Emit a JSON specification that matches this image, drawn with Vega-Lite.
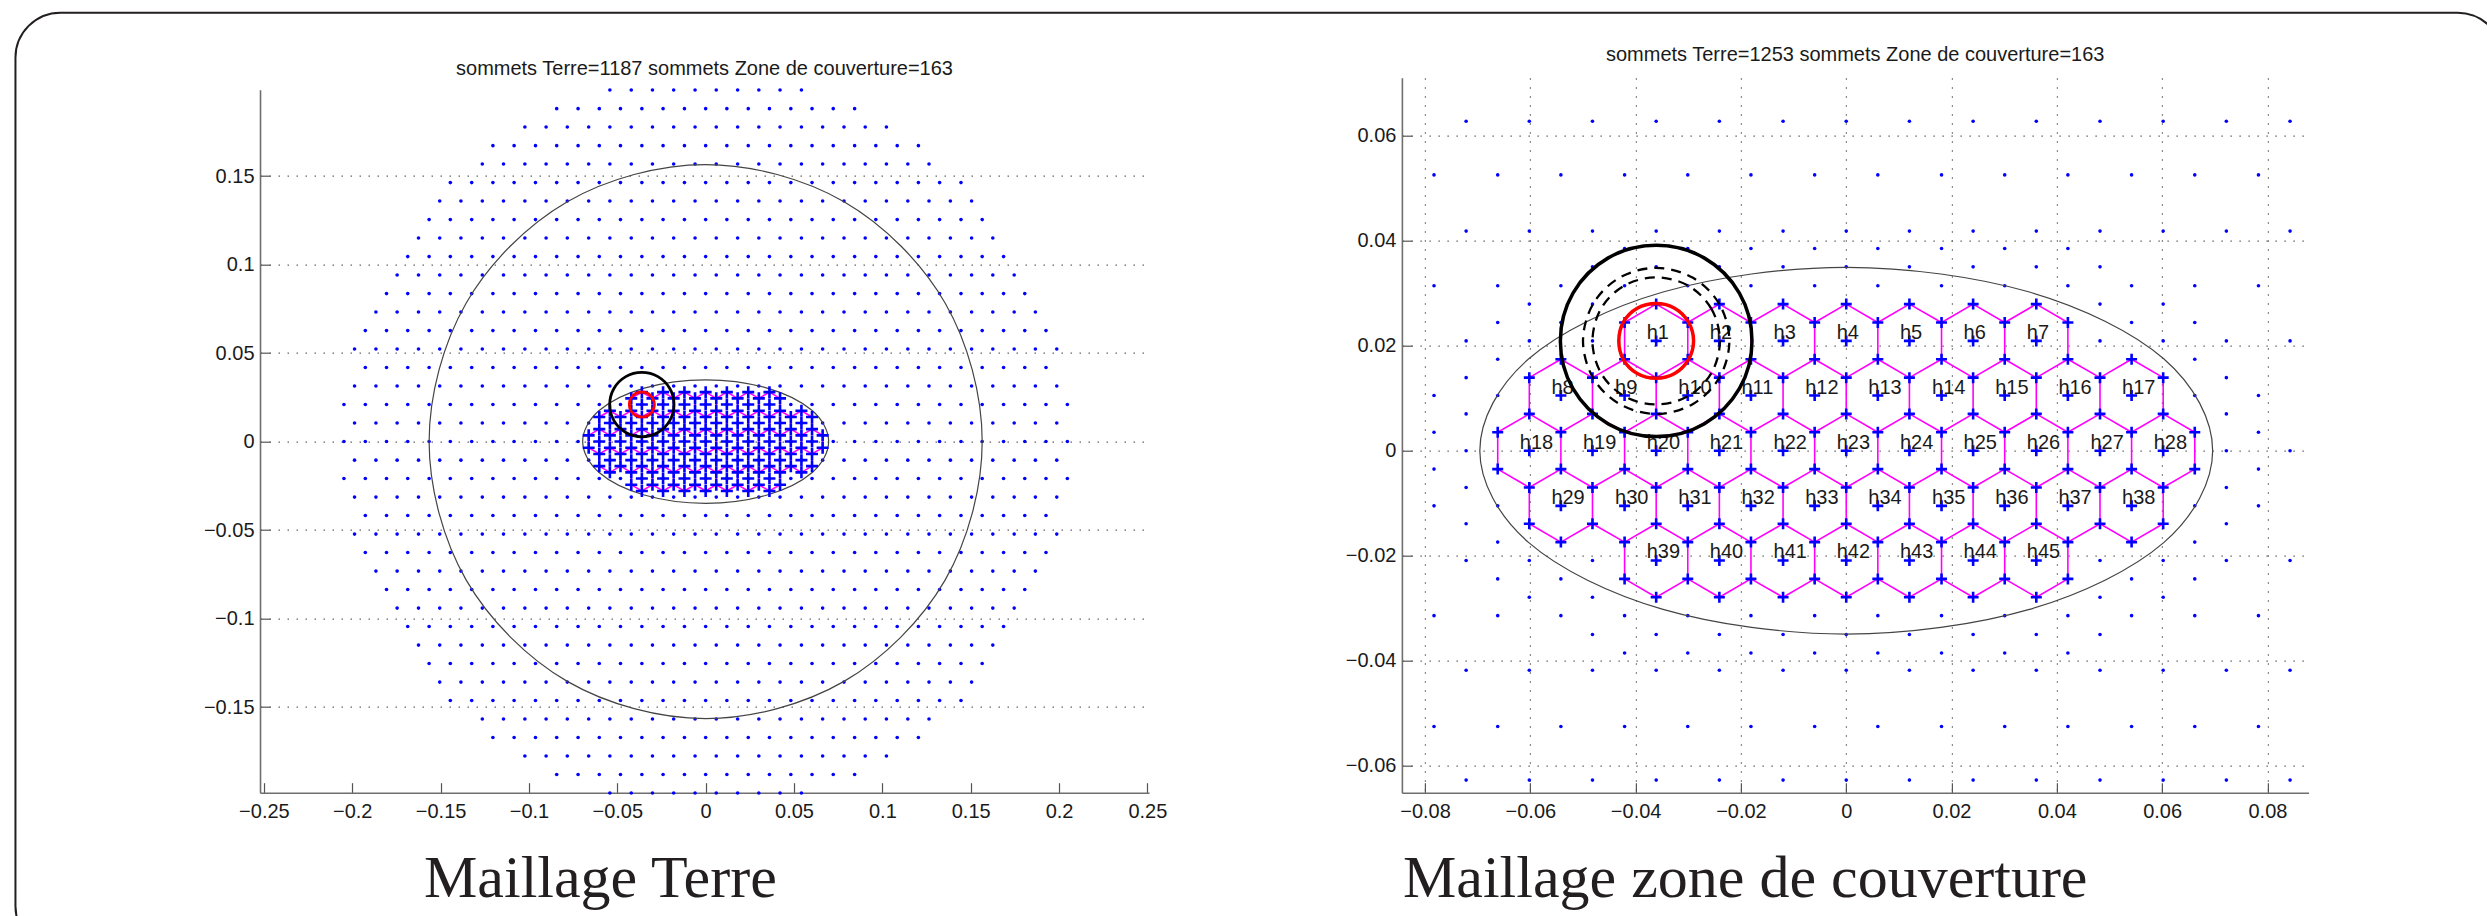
{"$schema":"https://vega.github.io/schema/vega-lite/v6.json","background":"white","padding":{"left":14,"top":11.7,"right":0,"bottom":0},"config":{"view":{"stroke":null},"axis":{"domainColor":"#6e6e6e","domainWidth":1.6,"tickColor":"#555555","tickWidth":1.2,"tickSize":-10,"labelFont":"Liberation Sans","labelFontSize":20,"labelColor":"#1a1a1a","gridColor":"#666666","gridDash":[1.5,7.5],"gridWidth":1.2,"gridOpacity":1,"titleFont":"Liberation Serif","titleFontSize":60,"titleFontWeight":"normal","titleColor":"#231f20","titleAlign":"left","titleBaseline":"alphabetic","titleY":104}},"datasets":{"hx":[{"x":-0.0361,"y":0.0209,"t":"h1"},{"x":-0.0241,"y":0.0209,"t":"h2"},{"x":-0.012,"y":0.0209,"t":"h3"},{"x":0,"y":0.0209,"t":"h4"},{"x":0.012,"y":0.0209,"t":"h5"},{"x":0.0241,"y":0.0209,"t":"h6"},{"x":0.0361,"y":0.0209,"t":"h7"},{"x":-0.0542,"y":0.0105,"t":"h8"},{"x":-0.0421,"y":0.0105,"t":"h9"},{"x":-0.0301,"y":0.0105,"t":"h10"},{"x":-0.0181,"y":0.0105,"t":"h11"},{"x":-0.006,"y":0.0105,"t":"h12"},{"x":0.006,"y":0.0105,"t":"h13"},{"x":0.0181,"y":0.0105,"t":"h14"},{"x":0.0301,"y":0.0105,"t":"h15"},{"x":0.0421,"y":0.0105,"t":"h16"},{"x":0.0542,"y":0.0105,"t":"h17"},{"x":-0.0602,"y":0,"t":"h18"},{"x":-0.0482,"y":0,"t":"h19"},{"x":-0.0361,"y":0,"t":"h20"},{"x":-0.0241,"y":0,"t":"h21"},{"x":-0.012,"y":0,"t":"h22"},{"x":0,"y":0,"t":"h23"},{"x":0.012,"y":0,"t":"h24"},{"x":0.0241,"y":0,"t":"h25"},{"x":0.0361,"y":0,"t":"h26"},{"x":0.0482,"y":0,"t":"h27"},{"x":0.0602,"y":0,"t":"h28"},{"x":-0.0542,"y":-0.0105,"t":"h29"},{"x":-0.0421,"y":-0.0105,"t":"h30"},{"x":-0.0301,"y":-0.0105,"t":"h31"},{"x":-0.0181,"y":-0.0105,"t":"h32"},{"x":-0.006,"y":-0.0105,"t":"h33"},{"x":0.006,"y":-0.0105,"t":"h34"},{"x":0.0181,"y":-0.0105,"t":"h35"},{"x":0.0301,"y":-0.0105,"t":"h36"},{"x":0.0421,"y":-0.0105,"t":"h37"},{"x":0.0542,"y":-0.0105,"t":"h38"},{"x":-0.0361,"y":-0.0209,"t":"h39"},{"x":-0.0241,"y":-0.0209,"t":"h40"},{"x":-0.012,"y":-0.0209,"t":"h41"},{"x":0,"y":-0.0209,"t":"h42"},{"x":0.012,"y":-0.0209,"t":"h43"},{"x":0.0241,"y":-0.0209,"t":"h44"},{"x":0.0361,"y":-0.0209,"t":"h45"}],"vt":[{"g":"a","x":-0.0421,"y":0.0244},{"g":"a","x":-0.0361,"y":0.0279},{"g":"a","x":-0.0301,"y":0.0244},{"g":"a","x":-0.0241,"y":0.0279},{"g":"a","x":-0.0181,"y":0.0244},{"g":"a","x":-0.012,"y":0.0279},{"g":"a","x":-0.006,"y":0.0244},{"g":"a","x":0,"y":0.0279},{"g":"a","x":0.006,"y":0.0244},{"g":"a","x":0.012,"y":0.0279},{"g":"a","x":0.0181,"y":0.0244},{"g":"a","x":0.0241,"y":0.0279},{"g":"a","x":0.0301,"y":0.0244},{"g":"a","x":0.0361,"y":0.0279},{"g":"a","x":0.0421,"y":0.0244},{"g":"b","x":-0.0602,"y":0.0139},{"g":"b","x":-0.0542,"y":0.0174},{"g":"b","x":-0.0482,"y":0.0139},{"g":"b","x":-0.0421,"y":0.0174},{"g":"b","x":-0.0361,"y":0.0139},{"g":"b","x":-0.0301,"y":0.0174},{"g":"b","x":-0.0241,"y":0.0139},{"g":"b","x":-0.0181,"y":0.0174},{"g":"b","x":-0.012,"y":0.0139},{"g":"b","x":-0.006,"y":0.0174},{"g":"b","x":0,"y":0.0139},{"g":"b","x":0.006,"y":0.0174},{"g":"b","x":0.012,"y":0.0139},{"g":"b","x":0.0181,"y":0.0174},{"g":"b","x":0.0241,"y":0.0139},{"g":"b","x":0.0301,"y":0.0174},{"g":"b","x":0.0361,"y":0.0139},{"g":"b","x":0.0421,"y":0.0174},{"g":"b","x":0.0482,"y":0.0139},{"g":"b","x":0.0542,"y":0.0174},{"g":"b","x":0.0602,"y":0.0139},{"g":"c","x":-0.0662,"y":0.0035},{"g":"c","x":-0.0602,"y":0.007},{"g":"c","x":-0.0542,"y":0.0035},{"g":"c","x":-0.0482,"y":0.007},{"g":"c","x":-0.0421,"y":0.0035},{"g":"c","x":-0.0361,"y":0.007},{"g":"c","x":-0.0301,"y":0.0035},{"g":"c","x":-0.0241,"y":0.007},{"g":"c","x":-0.0181,"y":0.0035},{"g":"c","x":-0.012,"y":0.007},{"g":"c","x":-0.006,"y":0.0035},{"g":"c","x":0,"y":0.007},{"g":"c","x":0.006,"y":0.0035},{"g":"c","x":0.012,"y":0.007},{"g":"c","x":0.0181,"y":0.0035},{"g":"c","x":0.0241,"y":0.007},{"g":"c","x":0.0301,"y":0.0035},{"g":"c","x":0.0361,"y":0.007},{"g":"c","x":0.0421,"y":0.0035},{"g":"c","x":0.0482,"y":0.007},{"g":"c","x":0.0542,"y":0.0035},{"g":"c","x":0.0602,"y":0.007},{"g":"c","x":0.0662,"y":0.0035},{"g":"d","x":-0.0662,"y":-0.0035},{"g":"d","x":-0.0602,"y":-0.007},{"g":"d","x":-0.0542,"y":-0.0035},{"g":"d","x":-0.0482,"y":-0.007},{"g":"d","x":-0.0421,"y":-0.0035},{"g":"d","x":-0.0361,"y":-0.007},{"g":"d","x":-0.0301,"y":-0.0035},{"g":"d","x":-0.0241,"y":-0.007},{"g":"d","x":-0.0181,"y":-0.0035},{"g":"d","x":-0.012,"y":-0.007},{"g":"d","x":-0.006,"y":-0.0035},{"g":"d","x":0,"y":-0.007},{"g":"d","x":0.006,"y":-0.0035},{"g":"d","x":0.012,"y":-0.007},{"g":"d","x":0.0181,"y":-0.0035},{"g":"d","x":0.0241,"y":-0.007},{"g":"d","x":0.0301,"y":-0.0035},{"g":"d","x":0.0361,"y":-0.007},{"g":"d","x":0.0421,"y":-0.0035},{"g":"d","x":0.0482,"y":-0.007},{"g":"d","x":0.0542,"y":-0.0035},{"g":"d","x":0.0602,"y":-0.007},{"g":"d","x":0.0662,"y":-0.0035},{"g":"e","x":-0.0602,"y":-0.0139},{"g":"e","x":-0.0542,"y":-0.0174},{"g":"e","x":-0.0482,"y":-0.0139},{"g":"e","x":-0.0421,"y":-0.0174},{"g":"e","x":-0.0361,"y":-0.0139},{"g":"e","x":-0.0301,"y":-0.0174},{"g":"e","x":-0.0241,"y":-0.0139},{"g":"e","x":-0.0181,"y":-0.0174},{"g":"e","x":-0.012,"y":-0.0139},{"g":"e","x":-0.006,"y":-0.0174},{"g":"e","x":0,"y":-0.0139},{"g":"e","x":0.006,"y":-0.0174},{"g":"e","x":0.012,"y":-0.0139},{"g":"e","x":0.0181,"y":-0.0174},{"g":"e","x":0.0241,"y":-0.0139},{"g":"e","x":0.0301,"y":-0.0174},{"g":"e","x":0.0361,"y":-0.0139},{"g":"e","x":0.0421,"y":-0.0174},{"g":"e","x":0.0482,"y":-0.0139},{"g":"e","x":0.0542,"y":-0.0174},{"g":"e","x":0.0602,"y":-0.0139},{"g":"f","x":-0.0421,"y":-0.0244},{"g":"f","x":-0.0361,"y":-0.0279},{"g":"f","x":-0.0301,"y":-0.0244},{"g":"f","x":-0.0241,"y":-0.0279},{"g":"f","x":-0.0181,"y":-0.0244},{"g":"f","x":-0.012,"y":-0.0279},{"g":"f","x":-0.006,"y":-0.0244},{"g":"f","x":0,"y":-0.0279},{"g":"f","x":0.006,"y":-0.0244},{"g":"f","x":0.012,"y":-0.0279},{"g":"f","x":0.0181,"y":-0.0244},{"g":"f","x":0.0241,"y":-0.0279},{"g":"f","x":0.0301,"y":-0.0244},{"g":"f","x":0.0361,"y":-0.0279},{"g":"f","x":0.0421,"y":-0.0244}],"ve":[{"x":-0.0421,"y":0.0174,"y2":0.0244},{"x":-0.0301,"y":0.0174,"y2":0.0244},{"x":-0.0181,"y":0.0174,"y2":0.0244},{"x":-0.006,"y":0.0174,"y2":0.0244},{"x":0.006,"y":0.0174,"y2":0.0244},{"x":0.0181,"y":0.0174,"y2":0.0244},{"x":0.0301,"y":0.0174,"y2":0.0244},{"x":0.0421,"y":0.0174,"y2":0.0244},{"x":-0.0602,"y":0.007,"y2":0.0139},{"x":-0.0482,"y":0.007,"y2":0.0139},{"x":-0.0361,"y":0.007,"y2":0.0139},{"x":-0.0241,"y":0.007,"y2":0.0139},{"x":-0.012,"y":0.007,"y2":0.0139},{"x":0,"y":0.007,"y2":0.0139},{"x":0.012,"y":0.007,"y2":0.0139},{"x":0.0241,"y":0.007,"y2":0.0139},{"x":0.0361,"y":0.007,"y2":0.0139},{"x":0.0482,"y":0.007,"y2":0.0139},{"x":0.0602,"y":0.007,"y2":0.0139},{"x":-0.0662,"y":-0.0035,"y2":0.0035},{"x":-0.0542,"y":-0.0035,"y2":0.0035},{"x":-0.0421,"y":-0.0035,"y2":0.0035},{"x":-0.0301,"y":-0.0035,"y2":0.0035},{"x":-0.0181,"y":-0.0035,"y2":0.0035},{"x":-0.006,"y":-0.0035,"y2":0.0035},{"x":0.006,"y":-0.0035,"y2":0.0035},{"x":0.0181,"y":-0.0035,"y2":0.0035},{"x":0.0301,"y":-0.0035,"y2":0.0035},{"x":0.0421,"y":-0.0035,"y2":0.0035},{"x":0.0542,"y":-0.0035,"y2":0.0035},{"x":0.0662,"y":-0.0035,"y2":0.0035},{"x":-0.0602,"y":-0.0139,"y2":-0.007},{"x":-0.0482,"y":-0.0139,"y2":-0.007},{"x":-0.0361,"y":-0.0139,"y2":-0.007},{"x":-0.0241,"y":-0.0139,"y2":-0.007},{"x":-0.012,"y":-0.0139,"y2":-0.007},{"x":0,"y":-0.0139,"y2":-0.007},{"x":0.012,"y":-0.0139,"y2":-0.007},{"x":0.0241,"y":-0.0139,"y2":-0.007},{"x":0.0361,"y":-0.0139,"y2":-0.007},{"x":0.0482,"y":-0.0139,"y2":-0.007},{"x":0.0602,"y":-0.0139,"y2":-0.007},{"x":-0.0421,"y":-0.0244,"y2":-0.0174},{"x":-0.0301,"y":-0.0244,"y2":-0.0174},{"x":-0.0181,"y":-0.0244,"y2":-0.0174},{"x":-0.006,"y":-0.0244,"y2":-0.0174},{"x":0.006,"y":-0.0244,"y2":-0.0174},{"x":0.0181,"y":-0.0244,"y2":-0.0174},{"x":0.0301,"y":-0.0244,"y2":-0.0174},{"x":0.0421,"y":-0.0244,"y2":-0.0174}],"cv":[{"c":"big","i":0,"x":0.1565,"y":0},{"c":"big","i":1,"x":0.1355,"y":0.0783},{"c":"big","i":2,"x":0.0783,"y":0.1355},{"c":"big","i":3,"x":0,"y":0.1565},{"c":"big","i":4,"x":-0.0783,"y":0.1355},{"c":"big","i":5,"x":-0.1355,"y":0.0783},{"c":"big","i":6,"x":-0.1565,"y":0},{"c":"big","i":7,"x":-0.1355,"y":-0.0783},{"c":"big","i":8,"x":-0.0783,"y":-0.1355},{"c":"big","i":9,"x":0,"y":-0.1565},{"c":"big","i":10,"x":0.0783,"y":-0.1355},{"c":"big","i":11,"x":0.1355,"y":-0.0783},{"c":"ell","i":0,"x":0.0696,"y":0},{"c":"ell","i":1,"x":0.0603,"y":0.0175},{"c":"ell","i":2,"x":0.0348,"y":0.0302},{"c":"ell","i":3,"x":0,"y":0.0349},{"c":"ell","i":4,"x":-0.0348,"y":0.0302},{"c":"ell","i":5,"x":-0.0603,"y":0.0175},{"c":"ell","i":6,"x":-0.0696,"y":0},{"c":"ell","i":7,"x":-0.0603,"y":-0.0175},{"c":"ell","i":8,"x":-0.0348,"y":-0.0302},{"c":"ell","i":9,"x":0,"y":-0.0349},{"c":"ell","i":10,"x":0.0348,"y":-0.0302},{"c":"ell","i":11,"x":0.0603,"y":-0.0175},{"c":"blk","i":0,"x":-0.0179,"y":0.0209},{"c":"blk","i":1,"x":-0.0203,"y":0.03},{"c":"blk","i":2,"x":-0.027,"y":0.0367},{"c":"blk","i":3,"x":-0.0361,"y":0.0391},{"c":"blk","i":4,"x":-0.0452,"y":0.0367},{"c":"blk","i":5,"x":-0.0519,"y":0.03},{"c":"blk","i":6,"x":-0.0543,"y":0.0209},{"c":"blk","i":7,"x":-0.0519,"y":0.0118},{"c":"blk","i":8,"x":-0.0452,"y":0.0051},{"c":"blk","i":9,"x":-0.0361,"y":0.0027},{"c":"blk","i":10,"x":-0.027,"y":0.0051},{"c":"blk","i":11,"x":-0.0203,"y":0.0118},{"c":"red","i":0,"x":-0.029,"y":0.0209},{"c":"red","i":1,"x":-0.03,"y":0.0245},{"c":"red","i":2,"x":-0.0326,"y":0.0271},{"c":"red","i":3,"x":-0.0361,"y":0.028},{"c":"red","i":4,"x":-0.0397,"y":0.0271},{"c":"red","i":5,"x":-0.0423,"y":0.0245},{"c":"red","i":6,"x":-0.0432,"y":0.0209},{"c":"red","i":7,"x":-0.0423,"y":0.0173},{"c":"red","i":8,"x":-0.0397,"y":0.0147},{"c":"red","i":9,"x":-0.0361,"y":0.0138},{"c":"red","i":10,"x":-0.0326,"y":0.0147},{"c":"red","i":11,"x":-0.03,"y":0.0173},{"c":"d1","i":0,"x":-0.0222,"y":0.0209},{"c":"d1","i":1,"x":-0.0241,"y":0.0279},{"c":"d1","i":2,"x":-0.0291,"y":0.0329},{"c":"d1","i":3,"x":-0.0361,"y":0.0348},{"c":"d1","i":4,"x":-0.0431,"y":0.0329},{"c":"d1","i":5,"x":-0.0481,"y":0.0279},{"c":"d1","i":6,"x":-0.05,"y":0.0209},{"c":"d1","i":7,"x":-0.0481,"y":0.0139},{"c":"d1","i":8,"x":-0.0431,"y":0.0089},{"c":"d1","i":9,"x":-0.0361,"y":0.007},{"c":"d1","i":10,"x":-0.0291,"y":0.0089},{"c":"d1","i":11,"x":-0.0241,"y":0.0139},{"c":"d2","i":0,"x":-0.024,"y":0.0209},{"c":"d2","i":1,"x":-0.0256,"y":0.027},{"c":"d2","i":2,"x":-0.03,"y":0.0314},{"c":"d2","i":3,"x":-0.0361,"y":0.033},{"c":"d2","i":4,"x":-0.0422,"y":0.0314},{"c":"d2","i":5,"x":-0.0466,"y":0.027},{"c":"d2","i":6,"x":-0.0482,"y":0.0209},{"c":"d2","i":7,"x":-0.0466,"y":0.0148},{"c":"d2","i":8,"x":-0.0422,"y":0.0104},{"c":"d2","i":9,"x":-0.0361,"y":0.0088},{"c":"d2","i":10,"x":-0.03,"y":0.0104},{"c":"d2","i":11,"x":-0.0256,"y":0.0148}],"dR":[{"x":-0.0722,"y":0.0627},{"x":-0.0602,"y":0.0627},{"x":-0.0482,"y":0.0627},{"x":-0.0361,"y":0.0627},{"x":-0.0241,"y":0.0627},{"x":-0.012,"y":0.0627},{"x":0,"y":0.0627},{"x":0.012,"y":0.0627},{"x":0.0241,"y":0.0627},{"x":0.0361,"y":0.0627},{"x":0.0482,"y":0.0627},{"x":0.0602,"y":0.0627},{"x":0.0722,"y":0.0627},{"x":0.0843,"y":0.0627},{"x":-0.0783,"y":0.0525},{"x":-0.0662,"y":0.0525},{"x":-0.0542,"y":0.0525},{"x":-0.0421,"y":0.0525},{"x":-0.0301,"y":0.0525},{"x":-0.0181,"y":0.0525},{"x":-0.006,"y":0.0525},{"x":0.006,"y":0.0525},{"x":0.0181,"y":0.0525},{"x":0.0301,"y":0.0525},{"x":0.0421,"y":0.0525},{"x":0.0542,"y":0.0525},{"x":0.0662,"y":0.0525},{"x":0.0783,"y":0.0525},{"x":-0.0722,"y":0.0418},{"x":-0.0602,"y":0.0418},{"x":-0.0482,"y":0.0418},{"x":-0.0361,"y":0.0418},{"x":-0.0241,"y":0.0418},{"x":-0.012,"y":0.0418},{"x":0,"y":0.0418},{"x":0.012,"y":0.0418},{"x":0.0241,"y":0.0418},{"x":0.0361,"y":0.0418},{"x":0.0482,"y":0.0418},{"x":0.0602,"y":0.0418},{"x":0.0722,"y":0.0418},{"x":0.0843,"y":0.0418},{"x":-0.0421,"y":0.0385},{"x":-0.0301,"y":0.0385},{"x":-0.0181,"y":0.0385},{"x":-0.006,"y":0.0385},{"x":0.006,"y":0.0385},{"x":0.0181,"y":0.0385},{"x":0.0301,"y":0.0385},{"x":0.0421,"y":0.0385},{"x":-0.0482,"y":0.035},{"x":-0.0361,"y":0.035},{"x":-0.0241,"y":0.035},{"x":-0.012,"y":0.035},{"x":0,"y":0.035},{"x":0.012,"y":0.035},{"x":0.0241,"y":0.035},{"x":0.0361,"y":0.035},{"x":0.0482,"y":0.035},{"x":-0.0783,"y":0.0314},{"x":-0.0662,"y":0.0314},{"x":-0.0542,"y":0.0314},{"x":-0.0421,"y":0.0314},{"x":-0.0301,"y":0.0314},{"x":-0.0181,"y":0.0314},{"x":-0.006,"y":0.0314},{"x":0.006,"y":0.0314},{"x":0.0181,"y":0.0314},{"x":0.0301,"y":0.0314},{"x":0.0421,"y":0.0314},{"x":0.0542,"y":0.0314},{"x":0.0662,"y":0.0314},{"x":0.0783,"y":0.0314},{"x":-0.0602,"y":0.0279},{"x":-0.0482,"y":0.0279},{"x":0.0482,"y":0.0279},{"x":0.0602,"y":0.0279},{"x":-0.0662,"y":0.0244},{"x":-0.0542,"y":0.0244},{"x":0.0542,"y":0.0244},{"x":0.0662,"y":0.0244},{"x":-0.0722,"y":0.0209},{"x":-0.0602,"y":0.0209},{"x":-0.0482,"y":0.0209},{"x":0.0482,"y":0.0209},{"x":0.0602,"y":0.0209},{"x":0.0722,"y":0.0209},{"x":0.0843,"y":0.0209},{"x":-0.0662,"y":0.0174},{"x":0.0662,"y":0.0174},{"x":-0.0722,"y":0.0139},{"x":0.0722,"y":0.0139},{"x":-0.0783,"y":0.0105},{"x":-0.0662,"y":0.0105},{"x":0.0662,"y":0.0105},{"x":0.0783,"y":0.0105},{"x":-0.0722,"y":0.007},{"x":0.0722,"y":0.007},{"x":-0.0783,"y":0.0035},{"x":0.0783,"y":0.0035},{"x":-0.0722,"y":0},{"x":0.0722,"y":0},{"x":0.0843,"y":0},{"x":-0.0783,"y":-0.0035},{"x":0.0783,"y":-0.0035},{"x":-0.0722,"y":-0.007},{"x":0.0722,"y":-0.007},{"x":-0.0783,"y":-0.0105},{"x":-0.0662,"y":-0.0105},{"x":0.0662,"y":-0.0105},{"x":0.0783,"y":-0.0105},{"x":-0.0722,"y":-0.0139},{"x":0.0722,"y":-0.0139},{"x":-0.0662,"y":-0.0174},{"x":0.0662,"y":-0.0174},{"x":-0.0722,"y":-0.0209},{"x":-0.0602,"y":-0.0209},{"x":-0.0482,"y":-0.0209},{"x":0.0482,"y":-0.0209},{"x":0.0602,"y":-0.0209},{"x":0.0722,"y":-0.0209},{"x":0.0843,"y":-0.0209},{"x":-0.0662,"y":-0.0244},{"x":-0.0542,"y":-0.0244},{"x":0.0542,"y":-0.0244},{"x":0.0662,"y":-0.0244},{"x":-0.0602,"y":-0.0279},{"x":-0.0482,"y":-0.0279},{"x":0.0482,"y":-0.0279},{"x":0.0602,"y":-0.0279},{"x":-0.0783,"y":-0.0314},{"x":-0.0662,"y":-0.0314},{"x":-0.0542,"y":-0.0314},{"x":-0.0421,"y":-0.0314},{"x":-0.0301,"y":-0.0314},{"x":-0.0181,"y":-0.0314},{"x":-0.006,"y":-0.0314},{"x":0.006,"y":-0.0314},{"x":0.0181,"y":-0.0314},{"x":0.0301,"y":-0.0314},{"x":0.0421,"y":-0.0314},{"x":0.0542,"y":-0.0314},{"x":0.0662,"y":-0.0314},{"x":0.0783,"y":-0.0314},{"x":-0.0482,"y":-0.035},{"x":-0.0361,"y":-0.035},{"x":-0.0241,"y":-0.035},{"x":-0.012,"y":-0.035},{"x":0,"y":-0.035},{"x":0.012,"y":-0.035},{"x":0.0241,"y":-0.035},{"x":0.0361,"y":-0.035},{"x":0.0482,"y":-0.035},{"x":-0.0421,"y":-0.0385},{"x":-0.0301,"y":-0.0385},{"x":-0.0181,"y":-0.0385},{"x":-0.006,"y":-0.0385},{"x":0.006,"y":-0.0385},{"x":0.0181,"y":-0.0385},{"x":0.0301,"y":-0.0385},{"x":0.0421,"y":-0.0385},{"x":-0.0722,"y":-0.0418},{"x":-0.0602,"y":-0.0418},{"x":-0.0482,"y":-0.0418},{"x":-0.0361,"y":-0.0418},{"x":-0.0241,"y":-0.0418},{"x":-0.012,"y":-0.0418},{"x":0,"y":-0.0418},{"x":0.012,"y":-0.0418},{"x":0.0241,"y":-0.0418},{"x":0.0361,"y":-0.0418},{"x":0.0482,"y":-0.0418},{"x":0.0602,"y":-0.0418},{"x":0.0722,"y":-0.0418},{"x":0.0843,"y":-0.0418},{"x":-0.0783,"y":-0.0525},{"x":-0.0662,"y":-0.0525},{"x":-0.0542,"y":-0.0525},{"x":-0.0421,"y":-0.0525},{"x":-0.0301,"y":-0.0525},{"x":-0.0181,"y":-0.0525},{"x":-0.006,"y":-0.0525},{"x":0.006,"y":-0.0525},{"x":0.0181,"y":-0.0525},{"x":0.0301,"y":-0.0525},{"x":0.0421,"y":-0.0525},{"x":0.0542,"y":-0.0525},{"x":0.0662,"y":-0.0525},{"x":0.0783,"y":-0.0525},{"x":-0.0722,"y":-0.0627},{"x":-0.0602,"y":-0.0627},{"x":-0.0482,"y":-0.0627},{"x":-0.0361,"y":-0.0627},{"x":-0.0241,"y":-0.0627},{"x":-0.012,"y":-0.0627},{"x":0,"y":-0.0627},{"x":0.012,"y":-0.0627},{"x":0.0241,"y":-0.0627},{"x":0.0361,"y":-0.0627},{"x":0.0482,"y":-0.0627},{"x":0.0602,"y":-0.0627},{"x":0.0722,"y":-0.0627},{"x":0.0843,"y":-0.0627}],"dL":[{"x":-0.0542,"y":0.1986},{"x":-0.0421,"y":0.1986},{"x":-0.0301,"y":0.1986},{"x":-0.0181,"y":0.1986},{"x":-0.006,"y":0.1986},{"x":0.006,"y":0.1986},{"x":0.0181,"y":0.1986},{"x":0.0301,"y":0.1986},{"x":0.0421,"y":0.1986},{"x":0.0542,"y":0.1986},{"x":-0.0843,"y":0.1881},{"x":-0.0722,"y":0.1881},{"x":-0.0602,"y":0.1881},{"x":-0.0482,"y":0.1881},{"x":-0.0361,"y":0.1881},{"x":-0.0241,"y":0.1881},{"x":-0.012,"y":0.1881},{"x":0,"y":0.1881},{"x":0.012,"y":0.1881},{"x":0.0241,"y":0.1881},{"x":0.0361,"y":0.1881},{"x":0.0482,"y":0.1881},{"x":0.0602,"y":0.1881},{"x":0.0722,"y":0.1881},{"x":0.0843,"y":0.1881},{"x":-0.1023,"y":0.1777},{"x":-0.0903,"y":0.1777},{"x":-0.0783,"y":0.1777},{"x":-0.0662,"y":0.1777},{"x":-0.0542,"y":0.1777},{"x":-0.0421,"y":0.1777},{"x":-0.0301,"y":0.1777},{"x":-0.0181,"y":0.1777},{"x":-0.006,"y":0.1777},{"x":0.006,"y":0.1777},{"x":0.0181,"y":0.1777},{"x":0.0301,"y":0.1777},{"x":0.0421,"y":0.1777},{"x":0.0542,"y":0.1777},{"x":0.0662,"y":0.1777},{"x":0.0783,"y":0.1777},{"x":0.0903,"y":0.1777},{"x":0.1023,"y":0.1777},{"x":-0.1204,"y":0.1672},{"x":-0.1084,"y":0.1672},{"x":-0.0963,"y":0.1672},{"x":-0.0843,"y":0.1672},{"x":-0.0722,"y":0.1672},{"x":-0.0602,"y":0.1672},{"x":-0.0482,"y":0.1672},{"x":-0.0361,"y":0.1672},{"x":-0.0241,"y":0.1672},{"x":-0.012,"y":0.1672},{"x":0,"y":0.1672},{"x":0.012,"y":0.1672},{"x":0.0241,"y":0.1672},{"x":0.0361,"y":0.1672},{"x":0.0482,"y":0.1672},{"x":0.0602,"y":0.1672},{"x":0.0722,"y":0.1672},{"x":0.0843,"y":0.1672},{"x":0.0963,"y":0.1672},{"x":0.1084,"y":0.1672},{"x":0.1204,"y":0.1672},{"x":-0.1264,"y":0.1568},{"x":-0.1144,"y":0.1568},{"x":-0.1023,"y":0.1568},{"x":-0.0903,"y":0.1568},{"x":-0.0783,"y":0.1568},{"x":-0.0662,"y":0.1568},{"x":-0.0542,"y":0.1568},{"x":-0.0421,"y":0.1568},{"x":-0.0301,"y":0.1568},{"x":-0.0181,"y":0.1568},{"x":-0.006,"y":0.1568},{"x":0.006,"y":0.1568},{"x":0.0181,"y":0.1568},{"x":0.0301,"y":0.1568},{"x":0.0421,"y":0.1568},{"x":0.0542,"y":0.1568},{"x":0.0662,"y":0.1568},{"x":0.0783,"y":0.1568},{"x":0.0903,"y":0.1568},{"x":0.1023,"y":0.1568},{"x":0.1144,"y":0.1568},{"x":0.1264,"y":0.1568},{"x":-0.1445,"y":0.1463},{"x":-0.1324,"y":0.1463},{"x":-0.1204,"y":0.1463},{"x":-0.1084,"y":0.1463},{"x":-0.0963,"y":0.1463},{"x":-0.0843,"y":0.1463},{"x":-0.0722,"y":0.1463},{"x":-0.0602,"y":0.1463},{"x":-0.0482,"y":0.1463},{"x":-0.0361,"y":0.1463},{"x":-0.0241,"y":0.1463},{"x":-0.012,"y":0.1463},{"x":0,"y":0.1463},{"x":0.012,"y":0.1463},{"x":0.0241,"y":0.1463},{"x":0.0361,"y":0.1463},{"x":0.0482,"y":0.1463},{"x":0.0602,"y":0.1463},{"x":0.0722,"y":0.1463},{"x":0.0843,"y":0.1463},{"x":0.0963,"y":0.1463},{"x":0.1084,"y":0.1463},{"x":0.1204,"y":0.1463},{"x":0.1324,"y":0.1463},{"x":0.1445,"y":0.1463},{"x":-0.1505,"y":0.1359},{"x":-0.1385,"y":0.1359},{"x":-0.1264,"y":0.1359},{"x":-0.1144,"y":0.1359},{"x":-0.1023,"y":0.1359},{"x":-0.0903,"y":0.1359},{"x":-0.0783,"y":0.1359},{"x":-0.0662,"y":0.1359},{"x":-0.0542,"y":0.1359},{"x":-0.0421,"y":0.1359},{"x":-0.0301,"y":0.1359},{"x":-0.0181,"y":0.1359},{"x":-0.006,"y":0.1359},{"x":0.006,"y":0.1359},{"x":0.0181,"y":0.1359},{"x":0.0301,"y":0.1359},{"x":0.0421,"y":0.1359},{"x":0.0542,"y":0.1359},{"x":0.0662,"y":0.1359},{"x":0.0783,"y":0.1359},{"x":0.0903,"y":0.1359},{"x":0.1023,"y":0.1359},{"x":0.1144,"y":0.1359},{"x":0.1264,"y":0.1359},{"x":0.1385,"y":0.1359},{"x":0.1505,"y":0.1359},{"x":-0.1565,"y":0.1254},{"x":-0.1445,"y":0.1254},{"x":-0.1324,"y":0.1254},{"x":-0.1204,"y":0.1254},{"x":-0.1084,"y":0.1254},{"x":-0.0963,"y":0.1254},{"x":-0.0843,"y":0.1254},{"x":-0.0722,"y":0.1254},{"x":-0.0602,"y":0.1254},{"x":-0.0482,"y":0.1254},{"x":-0.0361,"y":0.1254},{"x":-0.0241,"y":0.1254},{"x":-0.012,"y":0.1254},{"x":0,"y":0.1254},{"x":0.012,"y":0.1254},{"x":0.0241,"y":0.1254},{"x":0.0361,"y":0.1254},{"x":0.0482,"y":0.1254},{"x":0.0602,"y":0.1254},{"x":0.0722,"y":0.1254},{"x":0.0843,"y":0.1254},{"x":0.0963,"y":0.1254},{"x":0.1084,"y":0.1254},{"x":0.1204,"y":0.1254},{"x":0.1324,"y":0.1254},{"x":0.1445,"y":0.1254},{"x":0.1565,"y":0.1254},{"x":-0.1625,"y":0.115},{"x":-0.1505,"y":0.115},{"x":-0.1385,"y":0.115},{"x":-0.1264,"y":0.115},{"x":-0.1144,"y":0.115},{"x":-0.1023,"y":0.115},{"x":-0.0903,"y":0.115},{"x":-0.0783,"y":0.115},{"x":-0.0662,"y":0.115},{"x":-0.0542,"y":0.115},{"x":-0.0421,"y":0.115},{"x":-0.0301,"y":0.115},{"x":-0.0181,"y":0.115},{"x":-0.006,"y":0.115},{"x":0.006,"y":0.115},{"x":0.0181,"y":0.115},{"x":0.0301,"y":0.115},{"x":0.0421,"y":0.115},{"x":0.0542,"y":0.115},{"x":0.0662,"y":0.115},{"x":0.0783,"y":0.115},{"x":0.0903,"y":0.115},{"x":0.1023,"y":0.115},{"x":0.1144,"y":0.115},{"x":0.1264,"y":0.115},{"x":0.1385,"y":0.115},{"x":0.1505,"y":0.115},{"x":0.1625,"y":0.115},{"x":-0.1686,"y":0.1045},{"x":-0.1565,"y":0.1045},{"x":-0.1445,"y":0.1045},{"x":-0.1324,"y":0.1045},{"x":-0.1204,"y":0.1045},{"x":-0.1084,"y":0.1045},{"x":-0.0963,"y":0.1045},{"x":-0.0843,"y":0.1045},{"x":-0.0722,"y":0.1045},{"x":-0.0602,"y":0.1045},{"x":-0.0482,"y":0.1045},{"x":-0.0361,"y":0.1045},{"x":-0.0241,"y":0.1045},{"x":-0.012,"y":0.1045},{"x":0,"y":0.1045},{"x":0.012,"y":0.1045},{"x":0.0241,"y":0.1045},{"x":0.0361,"y":0.1045},{"x":0.0482,"y":0.1045},{"x":0.0602,"y":0.1045},{"x":0.0722,"y":0.1045},{"x":0.0843,"y":0.1045},{"x":0.0963,"y":0.1045},{"x":0.1084,"y":0.1045},{"x":0.1204,"y":0.1045},{"x":0.1324,"y":0.1045},{"x":0.1445,"y":0.1045},{"x":0.1565,"y":0.1045},{"x":0.1686,"y":0.1045},{"x":-0.1746,"y":0.0941},{"x":-0.1625,"y":0.0941},{"x":-0.1505,"y":0.0941},{"x":-0.1385,"y":0.0941},{"x":-0.1264,"y":0.0941},{"x":-0.1144,"y":0.0941},{"x":-0.1023,"y":0.0941},{"x":-0.0903,"y":0.0941},{"x":-0.0783,"y":0.0941},{"x":-0.0662,"y":0.0941},{"x":-0.0542,"y":0.0941},{"x":-0.0421,"y":0.0941},{"x":-0.0301,"y":0.0941},{"x":-0.0181,"y":0.0941},{"x":-0.006,"y":0.0941},{"x":0.006,"y":0.0941},{"x":0.0181,"y":0.0941},{"x":0.0301,"y":0.0941},{"x":0.0421,"y":0.0941},{"x":0.0542,"y":0.0941},{"x":0.0662,"y":0.0941},{"x":0.0783,"y":0.0941},{"x":0.0903,"y":0.0941},{"x":0.1023,"y":0.0941},{"x":0.1144,"y":0.0941},{"x":0.1264,"y":0.0941},{"x":0.1385,"y":0.0941},{"x":0.1505,"y":0.0941},{"x":0.1625,"y":0.0941},{"x":0.1746,"y":0.0941},{"x":-0.1806,"y":0.0836},{"x":-0.1686,"y":0.0836},{"x":-0.1565,"y":0.0836},{"x":-0.1445,"y":0.0836},{"x":-0.1324,"y":0.0836},{"x":-0.1204,"y":0.0836},{"x":-0.1084,"y":0.0836},{"x":-0.0963,"y":0.0836},{"x":-0.0843,"y":0.0836},{"x":-0.0722,"y":0.0836},{"x":-0.0602,"y":0.0836},{"x":-0.0482,"y":0.0836},{"x":-0.0361,"y":0.0836},{"x":-0.0241,"y":0.0836},{"x":-0.012,"y":0.0836},{"x":0,"y":0.0836},{"x":0.012,"y":0.0836},{"x":0.0241,"y":0.0836},{"x":0.0361,"y":0.0836},{"x":0.0482,"y":0.0836},{"x":0.0602,"y":0.0836},{"x":0.0722,"y":0.0836},{"x":0.0843,"y":0.0836},{"x":0.0963,"y":0.0836},{"x":0.1084,"y":0.0836},{"x":0.1204,"y":0.0836},{"x":0.1324,"y":0.0836},{"x":0.1445,"y":0.0836},{"x":0.1565,"y":0.0836},{"x":0.1686,"y":0.0836},{"x":0.1806,"y":0.0836},{"x":-0.1866,"y":0.0732},{"x":-0.1746,"y":0.0732},{"x":-0.1625,"y":0.0732},{"x":-0.1505,"y":0.0732},{"x":-0.1385,"y":0.0732},{"x":-0.1264,"y":0.0732},{"x":-0.1144,"y":0.0732},{"x":-0.1023,"y":0.0732},{"x":-0.0903,"y":0.0732},{"x":-0.0783,"y":0.0732},{"x":-0.0662,"y":0.0732},{"x":-0.0542,"y":0.0732},{"x":-0.0421,"y":0.0732},{"x":-0.0301,"y":0.0732},{"x":-0.0181,"y":0.0732},{"x":-0.006,"y":0.0732},{"x":0.006,"y":0.0732},{"x":0.0181,"y":0.0732},{"x":0.0301,"y":0.0732},{"x":0.0421,"y":0.0732},{"x":0.0542,"y":0.0732},{"x":0.0662,"y":0.0732},{"x":0.0783,"y":0.0732},{"x":0.0903,"y":0.0732},{"x":0.1023,"y":0.0732},{"x":0.1144,"y":0.0732},{"x":0.1264,"y":0.0732},{"x":0.1385,"y":0.0732},{"x":0.1505,"y":0.0732},{"x":0.1625,"y":0.0732},{"x":0.1746,"y":0.0732},{"x":0.1866,"y":0.0732},{"x":-0.1926,"y":0.0627},{"x":-0.1806,"y":0.0627},{"x":-0.1686,"y":0.0627},{"x":-0.1565,"y":0.0627},{"x":-0.1445,"y":0.0627},{"x":-0.1324,"y":0.0627},{"x":-0.1204,"y":0.0627},{"x":-0.1084,"y":0.0627},{"x":-0.0963,"y":0.0627},{"x":-0.0843,"y":0.0627},{"x":-0.0722,"y":0.0627},{"x":-0.0602,"y":0.0627},{"x":-0.0482,"y":0.0627},{"x":-0.0361,"y":0.0627},{"x":-0.0241,"y":0.0627},{"x":-0.012,"y":0.0627},{"x":0,"y":0.0627},{"x":0.012,"y":0.0627},{"x":0.0241,"y":0.0627},{"x":0.0361,"y":0.0627},{"x":0.0482,"y":0.0627},{"x":0.0602,"y":0.0627},{"x":0.0722,"y":0.0627},{"x":0.0843,"y":0.0627},{"x":0.0963,"y":0.0627},{"x":0.1084,"y":0.0627},{"x":0.1204,"y":0.0627},{"x":0.1324,"y":0.0627},{"x":0.1445,"y":0.0627},{"x":0.1565,"y":0.0627},{"x":0.1686,"y":0.0627},{"x":0.1806,"y":0.0627},{"x":0.1926,"y":0.0627},{"x":-0.1987,"y":0.0523},{"x":-0.1866,"y":0.0523},{"x":-0.1746,"y":0.0523},{"x":-0.1625,"y":0.0523},{"x":-0.1505,"y":0.0523},{"x":-0.1385,"y":0.0523},{"x":-0.1264,"y":0.0523},{"x":-0.1144,"y":0.0523},{"x":-0.1023,"y":0.0523},{"x":-0.0903,"y":0.0523},{"x":-0.0783,"y":0.0523},{"x":-0.0662,"y":0.0523},{"x":-0.0542,"y":0.0523},{"x":-0.0421,"y":0.0523},{"x":-0.0301,"y":0.0523},{"x":-0.0181,"y":0.0523},{"x":-0.006,"y":0.0523},{"x":0.006,"y":0.0523},{"x":0.0181,"y":0.0523},{"x":0.0301,"y":0.0523},{"x":0.0421,"y":0.0523},{"x":0.0542,"y":0.0523},{"x":0.0662,"y":0.0523},{"x":0.0783,"y":0.0523},{"x":0.0903,"y":0.0523},{"x":0.1023,"y":0.0523},{"x":0.1144,"y":0.0523},{"x":0.1264,"y":0.0523},{"x":0.1385,"y":0.0523},{"x":0.1505,"y":0.0523},{"x":0.1625,"y":0.0523},{"x":0.1746,"y":0.0523},{"x":0.1866,"y":0.0523},{"x":0.1987,"y":0.0523},{"x":-0.1926,"y":0.0418},{"x":-0.1806,"y":0.0418},{"x":-0.1686,"y":0.0418},{"x":-0.1565,"y":0.0418},{"x":-0.1445,"y":0.0418},{"x":-0.1324,"y":0.0418},{"x":-0.1204,"y":0.0418},{"x":-0.1084,"y":0.0418},{"x":-0.0963,"y":0.0418},{"x":-0.0843,"y":0.0418},{"x":-0.0722,"y":0.0418},{"x":-0.0602,"y":0.0418},{"x":-0.0482,"y":0.0418},{"x":-0.0361,"y":0.0418},{"x":-0.0241,"y":0.0418},{"x":-0.012,"y":0.0418},{"x":0,"y":0.0418},{"x":0.012,"y":0.0418},{"x":0.0241,"y":0.0418},{"x":0.0361,"y":0.0418},{"x":0.0482,"y":0.0418},{"x":0.0602,"y":0.0418},{"x":0.0722,"y":0.0418},{"x":0.0843,"y":0.0418},{"x":0.0963,"y":0.0418},{"x":0.1084,"y":0.0418},{"x":0.1204,"y":0.0418},{"x":0.1324,"y":0.0418},{"x":0.1445,"y":0.0418},{"x":0.1565,"y":0.0418},{"x":0.1686,"y":0.0418},{"x":0.1806,"y":0.0418},{"x":0.1926,"y":0.0418},{"x":-0.1987,"y":0.0314},{"x":-0.1866,"y":0.0314},{"x":-0.1746,"y":0.0314},{"x":-0.1625,"y":0.0314},{"x":-0.1505,"y":0.0314},{"x":-0.1385,"y":0.0314},{"x":-0.1264,"y":0.0314},{"x":-0.1144,"y":0.0314},{"x":-0.1023,"y":0.0314},{"x":-0.0903,"y":0.0314},{"x":-0.0783,"y":0.0314},{"x":-0.0662,"y":0.0314},{"x":-0.0542,"y":0.0314},{"x":-0.0421,"y":0.0314},{"x":-0.0301,"y":0.0314},{"x":-0.0181,"y":0.0314},{"x":-0.006,"y":0.0314},{"x":0.006,"y":0.0314},{"x":0.0181,"y":0.0314},{"x":0.0301,"y":0.0314},{"x":0.0421,"y":0.0314},{"x":0.0542,"y":0.0314},{"x":0.0662,"y":0.0314},{"x":0.0783,"y":0.0314},{"x":0.0903,"y":0.0314},{"x":0.1023,"y":0.0314},{"x":0.1144,"y":0.0314},{"x":0.1264,"y":0.0314},{"x":0.1385,"y":0.0314},{"x":0.1505,"y":0.0314},{"x":0.1625,"y":0.0314},{"x":0.1746,"y":0.0314},{"x":0.1866,"y":0.0314},{"x":0.1987,"y":0.0314},{"x":-0.2047,"y":0.0209},{"x":-0.1926,"y":0.0209},{"x":-0.1806,"y":0.0209},{"x":-0.1686,"y":0.0209},{"x":-0.1565,"y":0.0209},{"x":-0.1445,"y":0.0209},{"x":-0.1324,"y":0.0209},{"x":-0.1204,"y":0.0209},{"x":-0.1084,"y":0.0209},{"x":-0.0963,"y":0.0209},{"x":-0.0843,"y":0.0209},{"x":-0.0722,"y":0.0209},{"x":-0.0602,"y":0.0209},{"x":-0.0482,"y":0.0209},{"x":-0.0361,"y":0.0209},{"x":-0.0241,"y":0.0209},{"x":-0.012,"y":0.0209},{"x":0,"y":0.0209},{"x":0.012,"y":0.0209},{"x":0.0241,"y":0.0209},{"x":0.0361,"y":0.0209},{"x":0.0482,"y":0.0209},{"x":0.0602,"y":0.0209},{"x":0.0722,"y":0.0209},{"x":0.0843,"y":0.0209},{"x":0.0963,"y":0.0209},{"x":0.1084,"y":0.0209},{"x":0.1204,"y":0.0209},{"x":0.1324,"y":0.0209},{"x":0.1445,"y":0.0209},{"x":0.1565,"y":0.0209},{"x":0.1686,"y":0.0209},{"x":0.1806,"y":0.0209},{"x":0.1926,"y":0.0209},{"x":0.2047,"y":0.0209},{"x":-0.1987,"y":0.0105},{"x":-0.1866,"y":0.0105},{"x":-0.1746,"y":0.0105},{"x":-0.1625,"y":0.0105},{"x":-0.1505,"y":0.0105},{"x":-0.1385,"y":0.0105},{"x":-0.1264,"y":0.0105},{"x":-0.1144,"y":0.0105},{"x":-0.1023,"y":0.0105},{"x":-0.0903,"y":0.0105},{"x":-0.0783,"y":0.0105},{"x":-0.0662,"y":0.0105},{"x":-0.0542,"y":0.0105},{"x":-0.0421,"y":0.0105},{"x":-0.0301,"y":0.0105},{"x":-0.0181,"y":0.0105},{"x":-0.006,"y":0.0105},{"x":0.006,"y":0.0105},{"x":0.0181,"y":0.0105},{"x":0.0301,"y":0.0105},{"x":0.0421,"y":0.0105},{"x":0.0542,"y":0.0105},{"x":0.0662,"y":0.0105},{"x":0.0783,"y":0.0105},{"x":0.0903,"y":0.0105},{"x":0.1023,"y":0.0105},{"x":0.1144,"y":0.0105},{"x":0.1264,"y":0.0105},{"x":0.1385,"y":0.0105},{"x":0.1505,"y":0.0105},{"x":0.1625,"y":0.0105},{"x":0.1746,"y":0.0105},{"x":0.1866,"y":0.0105},{"x":0.1987,"y":0.0105},{"x":-0.2047,"y":0},{"x":-0.1926,"y":0},{"x":-0.1806,"y":0},{"x":-0.1686,"y":0},{"x":-0.1565,"y":0},{"x":-0.1445,"y":0},{"x":-0.1324,"y":0},{"x":-0.1204,"y":0},{"x":-0.1084,"y":0},{"x":-0.0963,"y":0},{"x":-0.0843,"y":0},{"x":-0.0722,"y":0},{"x":-0.0602,"y":0},{"x":-0.0482,"y":0},{"x":-0.0361,"y":0},{"x":-0.0241,"y":0},{"x":-0.012,"y":0},{"x":0,"y":0},{"x":0.012,"y":0},{"x":0.0241,"y":0},{"x":0.0361,"y":0},{"x":0.0482,"y":0},{"x":0.0602,"y":0},{"x":0.0722,"y":0},{"x":0.0843,"y":0},{"x":0.0963,"y":0},{"x":0.1084,"y":0},{"x":0.1204,"y":0},{"x":0.1324,"y":0},{"x":0.1445,"y":0},{"x":0.1565,"y":0},{"x":0.1686,"y":0},{"x":0.1806,"y":0},{"x":0.1926,"y":0},{"x":0.2047,"y":0},{"x":-0.1987,"y":-0.0105},{"x":-0.1866,"y":-0.0105},{"x":-0.1746,"y":-0.0105},{"x":-0.1625,"y":-0.0105},{"x":-0.1505,"y":-0.0105},{"x":-0.1385,"y":-0.0105},{"x":-0.1264,"y":-0.0105},{"x":-0.1144,"y":-0.0105},{"x":-0.1023,"y":-0.0105},{"x":-0.0903,"y":-0.0105},{"x":-0.0783,"y":-0.0105},{"x":-0.0662,"y":-0.0105},{"x":-0.0542,"y":-0.0105},{"x":-0.0421,"y":-0.0105},{"x":-0.0301,"y":-0.0105},{"x":-0.0181,"y":-0.0105},{"x":-0.006,"y":-0.0105},{"x":0.006,"y":-0.0105},{"x":0.0181,"y":-0.0105},{"x":0.0301,"y":-0.0105},{"x":0.0421,"y":-0.0105},{"x":0.0542,"y":-0.0105},{"x":0.0662,"y":-0.0105},{"x":0.0783,"y":-0.0105},{"x":0.0903,"y":-0.0105},{"x":0.1023,"y":-0.0105},{"x":0.1144,"y":-0.0105},{"x":0.1264,"y":-0.0105},{"x":0.1385,"y":-0.0105},{"x":0.1505,"y":-0.0105},{"x":0.1625,"y":-0.0105},{"x":0.1746,"y":-0.0105},{"x":0.1866,"y":-0.0105},{"x":0.1987,"y":-0.0105},{"x":-0.2047,"y":-0.0209},{"x":-0.1926,"y":-0.0209},{"x":-0.1806,"y":-0.0209},{"x":-0.1686,"y":-0.0209},{"x":-0.1565,"y":-0.0209},{"x":-0.1445,"y":-0.0209},{"x":-0.1324,"y":-0.0209},{"x":-0.1204,"y":-0.0209},{"x":-0.1084,"y":-0.0209},{"x":-0.0963,"y":-0.0209},{"x":-0.0843,"y":-0.0209},{"x":-0.0722,"y":-0.0209},{"x":-0.0602,"y":-0.0209},{"x":-0.0482,"y":-0.0209},{"x":-0.0361,"y":-0.0209},{"x":-0.0241,"y":-0.0209},{"x":-0.012,"y":-0.0209},{"x":0,"y":-0.0209},{"x":0.012,"y":-0.0209},{"x":0.0241,"y":-0.0209},{"x":0.0361,"y":-0.0209},{"x":0.0482,"y":-0.0209},{"x":0.0602,"y":-0.0209},{"x":0.0722,"y":-0.0209},{"x":0.0843,"y":-0.0209},{"x":0.0963,"y":-0.0209},{"x":0.1084,"y":-0.0209},{"x":0.1204,"y":-0.0209},{"x":0.1324,"y":-0.0209},{"x":0.1445,"y":-0.0209},{"x":0.1565,"y":-0.0209},{"x":0.1686,"y":-0.0209},{"x":0.1806,"y":-0.0209},{"x":0.1926,"y":-0.0209},{"x":0.2047,"y":-0.0209},{"x":-0.1987,"y":-0.0314},{"x":-0.1866,"y":-0.0314},{"x":-0.1746,"y":-0.0314},{"x":-0.1625,"y":-0.0314},{"x":-0.1505,"y":-0.0314},{"x":-0.1385,"y":-0.0314},{"x":-0.1264,"y":-0.0314},{"x":-0.1144,"y":-0.0314},{"x":-0.1023,"y":-0.0314},{"x":-0.0903,"y":-0.0314},{"x":-0.0783,"y":-0.0314},{"x":-0.0662,"y":-0.0314},{"x":-0.0542,"y":-0.0314},{"x":-0.0421,"y":-0.0314},{"x":-0.0301,"y":-0.0314},{"x":-0.0181,"y":-0.0314},{"x":-0.006,"y":-0.0314},{"x":0.006,"y":-0.0314},{"x":0.0181,"y":-0.0314},{"x":0.0301,"y":-0.0314},{"x":0.0421,"y":-0.0314},{"x":0.0542,"y":-0.0314},{"x":0.0662,"y":-0.0314},{"x":0.0783,"y":-0.0314},{"x":0.0903,"y":-0.0314},{"x":0.1023,"y":-0.0314},{"x":0.1144,"y":-0.0314},{"x":0.1264,"y":-0.0314},{"x":0.1385,"y":-0.0314},{"x":0.1505,"y":-0.0314},{"x":0.1625,"y":-0.0314},{"x":0.1746,"y":-0.0314},{"x":0.1866,"y":-0.0314},{"x":0.1987,"y":-0.0314},{"x":-0.1926,"y":-0.0418},{"x":-0.1806,"y":-0.0418},{"x":-0.1686,"y":-0.0418},{"x":-0.1565,"y":-0.0418},{"x":-0.1445,"y":-0.0418},{"x":-0.1324,"y":-0.0418},{"x":-0.1204,"y":-0.0418},{"x":-0.1084,"y":-0.0418},{"x":-0.0963,"y":-0.0418},{"x":-0.0843,"y":-0.0418},{"x":-0.0722,"y":-0.0418},{"x":-0.0602,"y":-0.0418},{"x":-0.0482,"y":-0.0418},{"x":-0.0361,"y":-0.0418},{"x":-0.0241,"y":-0.0418},{"x":-0.012,"y":-0.0418},{"x":0,"y":-0.0418},{"x":0.012,"y":-0.0418},{"x":0.0241,"y":-0.0418},{"x":0.0361,"y":-0.0418},{"x":0.0482,"y":-0.0418},{"x":0.0602,"y":-0.0418},{"x":0.0722,"y":-0.0418},{"x":0.0843,"y":-0.0418},{"x":0.0963,"y":-0.0418},{"x":0.1084,"y":-0.0418},{"x":0.1204,"y":-0.0418},{"x":0.1324,"y":-0.0418},{"x":0.1445,"y":-0.0418},{"x":0.1565,"y":-0.0418},{"x":0.1686,"y":-0.0418},{"x":0.1806,"y":-0.0418},{"x":0.1926,"y":-0.0418},{"x":-0.1987,"y":-0.0523},{"x":-0.1866,"y":-0.0523},{"x":-0.1746,"y":-0.0523},{"x":-0.1625,"y":-0.0523},{"x":-0.1505,"y":-0.0523},{"x":-0.1385,"y":-0.0523},{"x":-0.1264,"y":-0.0523},{"x":-0.1144,"y":-0.0523},{"x":-0.1023,"y":-0.0523},{"x":-0.0903,"y":-0.0523},{"x":-0.0783,"y":-0.0523},{"x":-0.0662,"y":-0.0523},{"x":-0.0542,"y":-0.0523},{"x":-0.0421,"y":-0.0523},{"x":-0.0301,"y":-0.0523},{"x":-0.0181,"y":-0.0523},{"x":-0.006,"y":-0.0523},{"x":0.006,"y":-0.0523},{"x":0.0181,"y":-0.0523},{"x":0.0301,"y":-0.0523},{"x":0.0421,"y":-0.0523},{"x":0.0542,"y":-0.0523},{"x":0.0662,"y":-0.0523},{"x":0.0783,"y":-0.0523},{"x":0.0903,"y":-0.0523},{"x":0.1023,"y":-0.0523},{"x":0.1144,"y":-0.0523},{"x":0.1264,"y":-0.0523},{"x":0.1385,"y":-0.0523},{"x":0.1505,"y":-0.0523},{"x":0.1625,"y":-0.0523},{"x":0.1746,"y":-0.0523},{"x":0.1866,"y":-0.0523},{"x":0.1987,"y":-0.0523},{"x":-0.1926,"y":-0.0627},{"x":-0.1806,"y":-0.0627},{"x":-0.1686,"y":-0.0627},{"x":-0.1565,"y":-0.0627},{"x":-0.1445,"y":-0.0627},{"x":-0.1324,"y":-0.0627},{"x":-0.1204,"y":-0.0627},{"x":-0.1084,"y":-0.0627},{"x":-0.0963,"y":-0.0627},{"x":-0.0843,"y":-0.0627},{"x":-0.0722,"y":-0.0627},{"x":-0.0602,"y":-0.0627},{"x":-0.0482,"y":-0.0627},{"x":-0.0361,"y":-0.0627},{"x":-0.0241,"y":-0.0627},{"x":-0.012,"y":-0.0627},{"x":0,"y":-0.0627},{"x":0.012,"y":-0.0627},{"x":0.0241,"y":-0.0627},{"x":0.0361,"y":-0.0627},{"x":0.0482,"y":-0.0627},{"x":0.0602,"y":-0.0627},{"x":0.0722,"y":-0.0627},{"x":0.0843,"y":-0.0627},{"x":0.0963,"y":-0.0627},{"x":0.1084,"y":-0.0627},{"x":0.1204,"y":-0.0627},{"x":0.1324,"y":-0.0627},{"x":0.1445,"y":-0.0627},{"x":0.1565,"y":-0.0627},{"x":0.1686,"y":-0.0627},{"x":0.1806,"y":-0.0627},{"x":0.1926,"y":-0.0627},{"x":-0.1866,"y":-0.0732},{"x":-0.1746,"y":-0.0732},{"x":-0.1625,"y":-0.0732},{"x":-0.1505,"y":-0.0732},{"x":-0.1385,"y":-0.0732},{"x":-0.1264,"y":-0.0732},{"x":-0.1144,"y":-0.0732},{"x":-0.1023,"y":-0.0732},{"x":-0.0903,"y":-0.0732},{"x":-0.0783,"y":-0.0732},{"x":-0.0662,"y":-0.0732},{"x":-0.0542,"y":-0.0732},{"x":-0.0421,"y":-0.0732},{"x":-0.0301,"y":-0.0732},{"x":-0.0181,"y":-0.0732},{"x":-0.006,"y":-0.0732},{"x":0.006,"y":-0.0732},{"x":0.0181,"y":-0.0732},{"x":0.0301,"y":-0.0732},{"x":0.0421,"y":-0.0732},{"x":0.0542,"y":-0.0732},{"x":0.0662,"y":-0.0732},{"x":0.0783,"y":-0.0732},{"x":0.0903,"y":-0.0732},{"x":0.1023,"y":-0.0732},{"x":0.1144,"y":-0.0732},{"x":0.1264,"y":-0.0732},{"x":0.1385,"y":-0.0732},{"x":0.1505,"y":-0.0732},{"x":0.1625,"y":-0.0732},{"x":0.1746,"y":-0.0732},{"x":0.1866,"y":-0.0732},{"x":-0.1806,"y":-0.0836},{"x":-0.1686,"y":-0.0836},{"x":-0.1565,"y":-0.0836},{"x":-0.1445,"y":-0.0836},{"x":-0.1324,"y":-0.0836},{"x":-0.1204,"y":-0.0836},{"x":-0.1084,"y":-0.0836},{"x":-0.0963,"y":-0.0836},{"x":-0.0843,"y":-0.0836},{"x":-0.0722,"y":-0.0836},{"x":-0.0602,"y":-0.0836},{"x":-0.0482,"y":-0.0836},{"x":-0.0361,"y":-0.0836},{"x":-0.0241,"y":-0.0836},{"x":-0.012,"y":-0.0836},{"x":0,"y":-0.0836},{"x":0.012,"y":-0.0836},{"x":0.0241,"y":-0.0836},{"x":0.0361,"y":-0.0836},{"x":0.0482,"y":-0.0836},{"x":0.0602,"y":-0.0836},{"x":0.0722,"y":-0.0836},{"x":0.0843,"y":-0.0836},{"x":0.0963,"y":-0.0836},{"x":0.1084,"y":-0.0836},{"x":0.1204,"y":-0.0836},{"x":0.1324,"y":-0.0836},{"x":0.1445,"y":-0.0836},{"x":0.1565,"y":-0.0836},{"x":0.1686,"y":-0.0836},{"x":0.1806,"y":-0.0836},{"x":-0.1746,"y":-0.0941},{"x":-0.1625,"y":-0.0941},{"x":-0.1505,"y":-0.0941},{"x":-0.1385,"y":-0.0941},{"x":-0.1264,"y":-0.0941},{"x":-0.1144,"y":-0.0941},{"x":-0.1023,"y":-0.0941},{"x":-0.0903,"y":-0.0941},{"x":-0.0783,"y":-0.0941},{"x":-0.0662,"y":-0.0941},{"x":-0.0542,"y":-0.0941},{"x":-0.0421,"y":-0.0941},{"x":-0.0301,"y":-0.0941},{"x":-0.0181,"y":-0.0941},{"x":-0.006,"y":-0.0941},{"x":0.006,"y":-0.0941},{"x":0.0181,"y":-0.0941},{"x":0.0301,"y":-0.0941},{"x":0.0421,"y":-0.0941},{"x":0.0542,"y":-0.0941},{"x":0.0662,"y":-0.0941},{"x":0.0783,"y":-0.0941},{"x":0.0903,"y":-0.0941},{"x":0.1023,"y":-0.0941},{"x":0.1144,"y":-0.0941},{"x":0.1264,"y":-0.0941},{"x":0.1385,"y":-0.0941},{"x":0.1505,"y":-0.0941},{"x":0.1625,"y":-0.0941},{"x":0.1746,"y":-0.0941},{"x":-0.1686,"y":-0.1045},{"x":-0.1565,"y":-0.1045},{"x":-0.1445,"y":-0.1045},{"x":-0.1324,"y":-0.1045},{"x":-0.1204,"y":-0.1045},{"x":-0.1084,"y":-0.1045},{"x":-0.0963,"y":-0.1045},{"x":-0.0843,"y":-0.1045},{"x":-0.0722,"y":-0.1045},{"x":-0.0602,"y":-0.1045},{"x":-0.0482,"y":-0.1045},{"x":-0.0361,"y":-0.1045},{"x":-0.0241,"y":-0.1045},{"x":-0.012,"y":-0.1045},{"x":0,"y":-0.1045},{"x":0.012,"y":-0.1045},{"x":0.0241,"y":-0.1045},{"x":0.0361,"y":-0.1045},{"x":0.0482,"y":-0.1045},{"x":0.0602,"y":-0.1045},{"x":0.0722,"y":-0.1045},{"x":0.0843,"y":-0.1045},{"x":0.0963,"y":-0.1045},{"x":0.1084,"y":-0.1045},{"x":0.1204,"y":-0.1045},{"x":0.1324,"y":-0.1045},{"x":0.1445,"y":-0.1045},{"x":0.1565,"y":-0.1045},{"x":0.1686,"y":-0.1045},{"x":-0.1625,"y":-0.115},{"x":-0.1505,"y":-0.115},{"x":-0.1385,"y":-0.115},{"x":-0.1264,"y":-0.115},{"x":-0.1144,"y":-0.115},{"x":-0.1023,"y":-0.115},{"x":-0.0903,"y":-0.115},{"x":-0.0783,"y":-0.115},{"x":-0.0662,"y":-0.115},{"x":-0.0542,"y":-0.115},{"x":-0.0421,"y":-0.115},{"x":-0.0301,"y":-0.115},{"x":-0.0181,"y":-0.115},{"x":-0.006,"y":-0.115},{"x":0.006,"y":-0.115},{"x":0.0181,"y":-0.115},{"x":0.0301,"y":-0.115},{"x":0.0421,"y":-0.115},{"x":0.0542,"y":-0.115},{"x":0.0662,"y":-0.115},{"x":0.0783,"y":-0.115},{"x":0.0903,"y":-0.115},{"x":0.1023,"y":-0.115},{"x":0.1144,"y":-0.115},{"x":0.1264,"y":-0.115},{"x":0.1385,"y":-0.115},{"x":0.1505,"y":-0.115},{"x":0.1625,"y":-0.115},{"x":-0.1565,"y":-0.1254},{"x":-0.1445,"y":-0.1254},{"x":-0.1324,"y":-0.1254},{"x":-0.1204,"y":-0.1254},{"x":-0.1084,"y":-0.1254},{"x":-0.0963,"y":-0.1254},{"x":-0.0843,"y":-0.1254},{"x":-0.0722,"y":-0.1254},{"x":-0.0602,"y":-0.1254},{"x":-0.0482,"y":-0.1254},{"x":-0.0361,"y":-0.1254},{"x":-0.0241,"y":-0.1254},{"x":-0.012,"y":-0.1254},{"x":0,"y":-0.1254},{"x":0.012,"y":-0.1254},{"x":0.0241,"y":-0.1254},{"x":0.0361,"y":-0.1254},{"x":0.0482,"y":-0.1254},{"x":0.0602,"y":-0.1254},{"x":0.0722,"y":-0.1254},{"x":0.0843,"y":-0.1254},{"x":0.0963,"y":-0.1254},{"x":0.1084,"y":-0.1254},{"x":0.1204,"y":-0.1254},{"x":0.1324,"y":-0.1254},{"x":0.1445,"y":-0.1254},{"x":0.1565,"y":-0.1254},{"x":-0.1505,"y":-0.1359},{"x":-0.1385,"y":-0.1359},{"x":-0.1264,"y":-0.1359},{"x":-0.1144,"y":-0.1359},{"x":-0.1023,"y":-0.1359},{"x":-0.0903,"y":-0.1359},{"x":-0.0783,"y":-0.1359},{"x":-0.0662,"y":-0.1359},{"x":-0.0542,"y":-0.1359},{"x":-0.0421,"y":-0.1359},{"x":-0.0301,"y":-0.1359},{"x":-0.0181,"y":-0.1359},{"x":-0.006,"y":-0.1359},{"x":0.006,"y":-0.1359},{"x":0.0181,"y":-0.1359},{"x":0.0301,"y":-0.1359},{"x":0.0421,"y":-0.1359},{"x":0.0542,"y":-0.1359},{"x":0.0662,"y":-0.1359},{"x":0.0783,"y":-0.1359},{"x":0.0903,"y":-0.1359},{"x":0.1023,"y":-0.1359},{"x":0.1144,"y":-0.1359},{"x":0.1264,"y":-0.1359},{"x":0.1385,"y":-0.1359},{"x":0.1505,"y":-0.1359},{"x":-0.1445,"y":-0.1463},{"x":-0.1324,"y":-0.1463},{"x":-0.1204,"y":-0.1463},{"x":-0.1084,"y":-0.1463},{"x":-0.0963,"y":-0.1463},{"x":-0.0843,"y":-0.1463},{"x":-0.0722,"y":-0.1463},{"x":-0.0602,"y":-0.1463},{"x":-0.0482,"y":-0.1463},{"x":-0.0361,"y":-0.1463},{"x":-0.0241,"y":-0.1463},{"x":-0.012,"y":-0.1463},{"x":0,"y":-0.1463},{"x":0.012,"y":-0.1463},{"x":0.0241,"y":-0.1463},{"x":0.0361,"y":-0.1463},{"x":0.0482,"y":-0.1463},{"x":0.0602,"y":-0.1463},{"x":0.0722,"y":-0.1463},{"x":0.0843,"y":-0.1463},{"x":0.0963,"y":-0.1463},{"x":0.1084,"y":-0.1463},{"x":0.1204,"y":-0.1463},{"x":0.1324,"y":-0.1463},{"x":0.1445,"y":-0.1463},{"x":-0.1264,"y":-0.1568},{"x":-0.1144,"y":-0.1568},{"x":-0.1023,"y":-0.1568},{"x":-0.0903,"y":-0.1568},{"x":-0.0783,"y":-0.1568},{"x":-0.0662,"y":-0.1568},{"x":-0.0542,"y":-0.1568},{"x":-0.0421,"y":-0.1568},{"x":-0.0301,"y":-0.1568},{"x":-0.0181,"y":-0.1568},{"x":-0.006,"y":-0.1568},{"x":0.006,"y":-0.1568},{"x":0.0181,"y":-0.1568},{"x":0.0301,"y":-0.1568},{"x":0.0421,"y":-0.1568},{"x":0.0542,"y":-0.1568},{"x":0.0662,"y":-0.1568},{"x":0.0783,"y":-0.1568},{"x":0.0903,"y":-0.1568},{"x":0.1023,"y":-0.1568},{"x":0.1144,"y":-0.1568},{"x":0.1264,"y":-0.1568},{"x":-0.1204,"y":-0.1672},{"x":-0.1084,"y":-0.1672},{"x":-0.0963,"y":-0.1672},{"x":-0.0843,"y":-0.1672},{"x":-0.0722,"y":-0.1672},{"x":-0.0602,"y":-0.1672},{"x":-0.0482,"y":-0.1672},{"x":-0.0361,"y":-0.1672},{"x":-0.0241,"y":-0.1672},{"x":-0.012,"y":-0.1672},{"x":0,"y":-0.1672},{"x":0.012,"y":-0.1672},{"x":0.0241,"y":-0.1672},{"x":0.0361,"y":-0.1672},{"x":0.0482,"y":-0.1672},{"x":0.0602,"y":-0.1672},{"x":0.0722,"y":-0.1672},{"x":0.0843,"y":-0.1672},{"x":0.0963,"y":-0.1672},{"x":0.1084,"y":-0.1672},{"x":0.1204,"y":-0.1672},{"x":-0.1023,"y":-0.1777},{"x":-0.0903,"y":-0.1777},{"x":-0.0783,"y":-0.1777},{"x":-0.0662,"y":-0.1777},{"x":-0.0542,"y":-0.1777},{"x":-0.0421,"y":-0.1777},{"x":-0.0301,"y":-0.1777},{"x":-0.0181,"y":-0.1777},{"x":-0.006,"y":-0.1777},{"x":0.006,"y":-0.1777},{"x":0.0181,"y":-0.1777},{"x":0.0301,"y":-0.1777},{"x":0.0421,"y":-0.1777},{"x":0.0542,"y":-0.1777},{"x":0.0662,"y":-0.1777},{"x":0.0783,"y":-0.1777},{"x":0.0903,"y":-0.1777},{"x":0.1023,"y":-0.1777},{"x":-0.0843,"y":-0.1881},{"x":-0.0722,"y":-0.1881},{"x":-0.0602,"y":-0.1881},{"x":-0.0482,"y":-0.1881},{"x":-0.0361,"y":-0.1881},{"x":-0.0241,"y":-0.1881},{"x":-0.012,"y":-0.1881},{"x":0,"y":-0.1881},{"x":0.012,"y":-0.1881},{"x":0.0241,"y":-0.1881},{"x":0.0361,"y":-0.1881},{"x":0.0482,"y":-0.1881},{"x":0.0602,"y":-0.1881},{"x":0.0722,"y":-0.1881},{"x":0.0843,"y":-0.1881},{"x":-0.0542,"y":-0.1986},{"x":-0.0421,"y":-0.1986},{"x":-0.0301,"y":-0.1986},{"x":-0.0181,"y":-0.1986},{"x":-0.006,"y":-0.1986},{"x":0.006,"y":-0.1986},{"x":0.0181,"y":-0.1986},{"x":0.0301,"y":-0.1986},{"x":0.0421,"y":-0.1986},{"x":0.0542,"y":-0.1986}]},"hconcat":[{"width":889,"height":715,"title":{"text":"sommets Terre=1187 sommets Zone de couverture=163","font":"Liberation Sans","fontSize":20,"fontWeight":"normal","color":"#1a1a1a","anchor":"middle","offset":-67.5},"encoding":{"x":{"field":"x","type":"quantitative","scale":{"domain":[-0.2522,0.2509]},"axis":{"title":"Maillage Terre","titleX":163.5,"grid":false,"labelPadding":19,"values":[-0.25,-0.2,-0.15,-0.1,-0.05,0,0.05,0.1,0.15,0.2,0.25],"format":"~g"}},"y":{"field":"y","type":"quantitative","scale":{"domain":[-0.1984,0.1988],"range":[715,12]},"axis":{"title":null,"labelPadding":16,"values":[-0.15,-0.1,-0.05,0,0.05,0.1,0.15],"format":"~g"}}},"layer":[{"data":{"values":[{"x":-0.3906,"x2":1.0169,"y":0.2423,"y2":-0.2878}]},"mark":{"type":"rect","filled":false,"stroke":"#231f20","strokeWidth":2,"cornerRadius":45},"encoding":{"x2":{"field":"x2"},"y2":{"field":"y2"}}},{"data":{"values":[{"x":-0.25},{"x":-0.2},{"x":-0.15},{"x":-0.1},{"x":-0.05},{"x":0},{"x":0.05},{"x":0.1},{"x":0.15},{"x":0.2},{"x":0.25}]},"mark":{"type":"rule","stroke":"#666666","strokeWidth":1.2,"strokeDash":[1.5,7.5]},"encoding":{"y":{"datum":-0.1984},"y2":{"datum":0.1988}}},{"data":{"name":"dL"},"mark":{"type":"point","filled":true,"fill":"#0000ff","stroke":null,"size":13,"opacity":1}},{"data":{"name":"cv"},"transform":[{"filter":"datum.c=='big'||datum.c=='ell'"}],"mark":{"type":"line","stroke":"#444444","strokeWidth":1.2,"interpolate":"cardinal-closed"},"encoding":{"detail":{"field":"c"},"order":{"field":"i"}}},{"data":{"name":"vt"},"mark":{"type":"line","stroke":"#ff00ff","strokeWidth":1.6},"encoding":{"detail":{"field":"g"},"order":{"field":"x"}}},{"data":{"name":"ve"},"mark":{"type":"rule","stroke":"#ff00ff","strokeWidth":1.6},"encoding":{"y2":{"field":"y2"}}},{"data":{"name":"vt"},"mark":{"type":"point","shape":"M-1,0H1M0,-1V1","size":144,"filled":false,"stroke":"#0000ff","strokeWidth":2.6,"opacity":1}},{"data":{"name":"hx"},"mark":{"type":"point","shape":"M-1,0H1M0,-1V1","size":144,"filled":false,"stroke":"#0000ff","strokeWidth":2.6,"opacity":1}},{"data":{"name":"cv"},"transform":[{"filter":"datum.c=='blk'"}],"mark":{"type":"line","stroke":"#000000","strokeWidth":2.8,"interpolate":"cardinal-closed"},"encoding":{"order":{"field":"i"}}},{"data":{"name":"cv"},"transform":[{"filter":"datum.c=='red'"}],"mark":{"type":"line","stroke":"#ff0000","strokeWidth":2.8,"interpolate":"cardinal-closed"},"encoding":{"order":{"field":"i"}}}]},{"width":906.6,"height":715,"title":{"text":"sommets Terre=1253 sommets Zone de couverture=163","font":"Liberation Sans","fontSize":20,"fontWeight":"normal","color":"#1a1a1a","anchor":"middle","offset":13},"encoding":{"x":{"field":"x","type":"quantitative","scale":{"domain":[-0.0844,0.0878]},"axis":{"title":"Maillage zone de couverture","titleX":0.6,"grid":true,"labelPadding":19,"values":[-0.08,-0.06,-0.04,-0.02,0,0.02,0.04,0.06,0.08],"format":"~g"}},"y":{"field":"y","type":"quantitative","scale":{"domain":[-0.0651,0.071]},"axis":{"title":null,"labelPadding":16,"values":[-0.06,-0.04,-0.02,0,0.02,0.04,0.06],"format":"~g"}}},"layer":[{"data":{"name":"dR"},"mark":{"type":"point","filled":true,"fill":"#0000ff","stroke":null,"size":13,"opacity":1}},{"data":{"name":"cv"},"transform":[{"filter":"datum.c=='ell'"}],"mark":{"type":"line","stroke":"#444444","strokeWidth":1.2,"interpolate":"cardinal-closed"},"encoding":{"order":{"field":"i"}}},{"data":{"name":"vt"},"mark":{"type":"line","stroke":"#ff00ff","strokeWidth":1.6},"encoding":{"detail":{"field":"g"},"order":{"field":"x"}}},{"data":{"name":"ve"},"mark":{"type":"rule","stroke":"#ff00ff","strokeWidth":1.6},"encoding":{"y2":{"field":"y2"}}},{"data":{"name":"vt"},"mark":{"type":"point","shape":"M-1,0H1M0,-1V1","size":121,"filled":false,"stroke":"#0000ff","strokeWidth":2.6,"opacity":1}},{"data":{"name":"hx"},"mark":{"type":"point","shape":"M-1,0H1M0,-1V1","size":121,"filled":false,"stroke":"#0000ff","strokeWidth":2.6,"opacity":1}},{"data":{"name":"hx"},"mark":{"type":"text","font":"Liberation Sans","fontSize":20,"align":"left","baseline":"alphabetic","dx":-9.5,"dy":-2,"color":"#1a1a1a"},"encoding":{"text":{"field":"t"}}},{"data":{"name":"cv"},"transform":[{"filter":"datum.c=='blk'"}],"mark":{"type":"line","stroke":"#000000","strokeWidth":3.5,"interpolate":"cardinal-closed"},"encoding":{"order":{"field":"i"}}},{"data":{"name":"cv"},"transform":[{"filter":"datum.c=='d1'||datum.c=='d2'"}],"mark":{"type":"line","stroke":"#000000","strokeWidth":2.3,"strokeDash":[10,7],"interpolate":"cardinal-closed"},"encoding":{"detail":{"field":"c"},"order":{"field":"i"}}},{"data":{"name":"cv"},"transform":[{"filter":"datum.c=='red'"}],"mark":{"type":"line","stroke":"#ff0000","strokeWidth":3.5,"interpolate":"cardinal-closed"},"encoding":{"order":{"field":"i"}}}]}],"spacing":252.9,"bounds":"flush"}
